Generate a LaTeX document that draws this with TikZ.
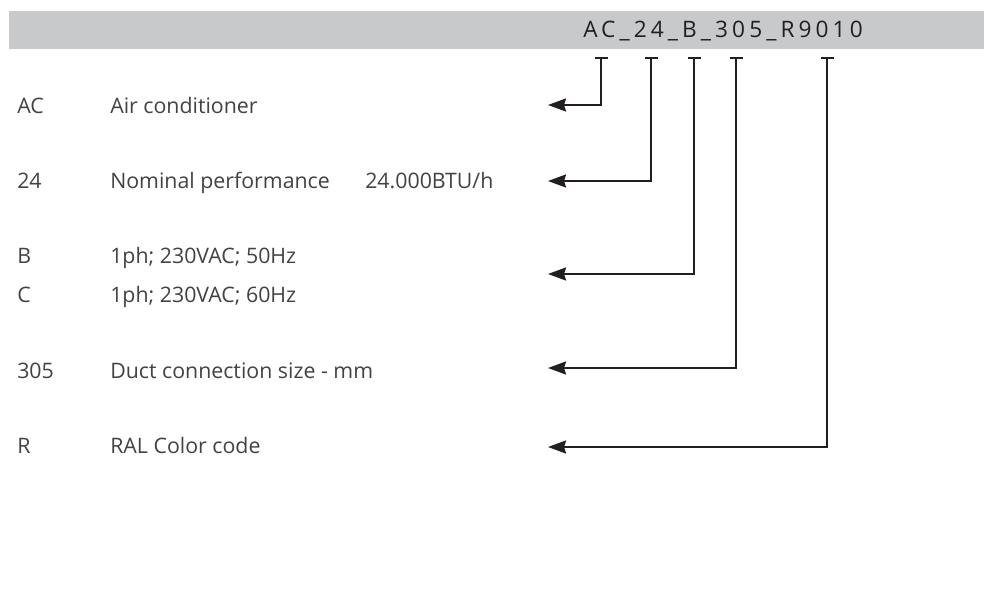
\documentclass[tikz,border=0pt]{standalone}
\usepackage{fontspec}
\setmainfont{Open Sans}
\usetikzlibrary{arrows.meta}
\definecolor{barGray}{RGB}{200,201,203}
\definecolor{inkDark}{RGB}{35,31,32}
\definecolor{txtGray}{RGB}{66,66,66}

\begin{document}
\begin{tikzpicture}[x=0.75pt,y=0.75pt,yscale=-1,xscale=1,
  lbl/.style={anchor=base west,inner sep=0pt,text=txtGray,font=\fontsize{16}{19}\selectfont},
  codetxt/.style={anchor=base west,inner sep=0pt,text=inkDark,font=\fontsize{17}{20}\selectfont\addfontfeatures{LetterSpace=18}},
  leader/.style={draw=inkDark,line width=1.6pt,{Bar[width=9.75pt]}-{Stealth[length=13.5pt,width=9.75pt,inset=1.5pt]}}]
\path (0,0) rectangle (984,589); %set diagram size

%Shape: Rectangle (header bar)
\fill [barGray] (9,11) rectangle (984,49) ;
% Text Node
\node [codetxt] (code) at (583,37) {AC\_24\_B\_305\_R9010};

%Coordinates: tick tops and arrow ends
\coordinate (tAC) at (601,57);
\coordinate (tPerf) at (651,57);
\coordinate (tVolt) at (694,57);
\coordinate (tDuct) at (736,57);
\coordinate (tRal) at (827,57);
\coordinate (eAC) at (548,105);
\coordinate (ePerf) at (548,181);
\coordinate (eVolt) at (548,274);
\coordinate (eDuct) at (548,368);
\coordinate (eRal) at (548,447);

%Straight Lines (leaders)
\draw [leader] (tAC) |- (eAC) ;
\draw [leader] (tPerf) |- (ePerf) ;
\draw [leader] (tVolt) |- (eVolt) ;
\draw [leader] (tDuct) |- (eDuct) ;
\draw [leader] (tRal) |- (eRal) ;

% Text Node
\node [lbl] (kAC) at (17,113) {AC};
\node [lbl] (dAC) at (110,113) {Air conditioner};
% Text Node
\node [lbl] (kPerf) at (17,188) {24};
\node [lbl] (dPerf) at (110,188) {Nominal performance};
\node [lbl] (vPerf) at (365,188) {24.000BTU/h};
% Text Node
\node [lbl] (kB) at (17,263) {B};
\node [lbl] (dB) at (110,263) {1ph; 230VAC; 50Hz};
% Text Node
\node [lbl] (kC) at (17,302) {C};
\node [lbl] (dC) at (110,302) {1ph; 230VAC; 60Hz};
% Text Node
\node [lbl] (kDuct) at (17,378) {305};
\node [lbl] (dDuct) at (110,378) {Duct connection size - mm};
% Text Node
\node [lbl] (kRal) at (17,453) {R};
\node [lbl] (dRal) at (110,453) {RAL Color code};

\end{tikzpicture}
\end{document}
